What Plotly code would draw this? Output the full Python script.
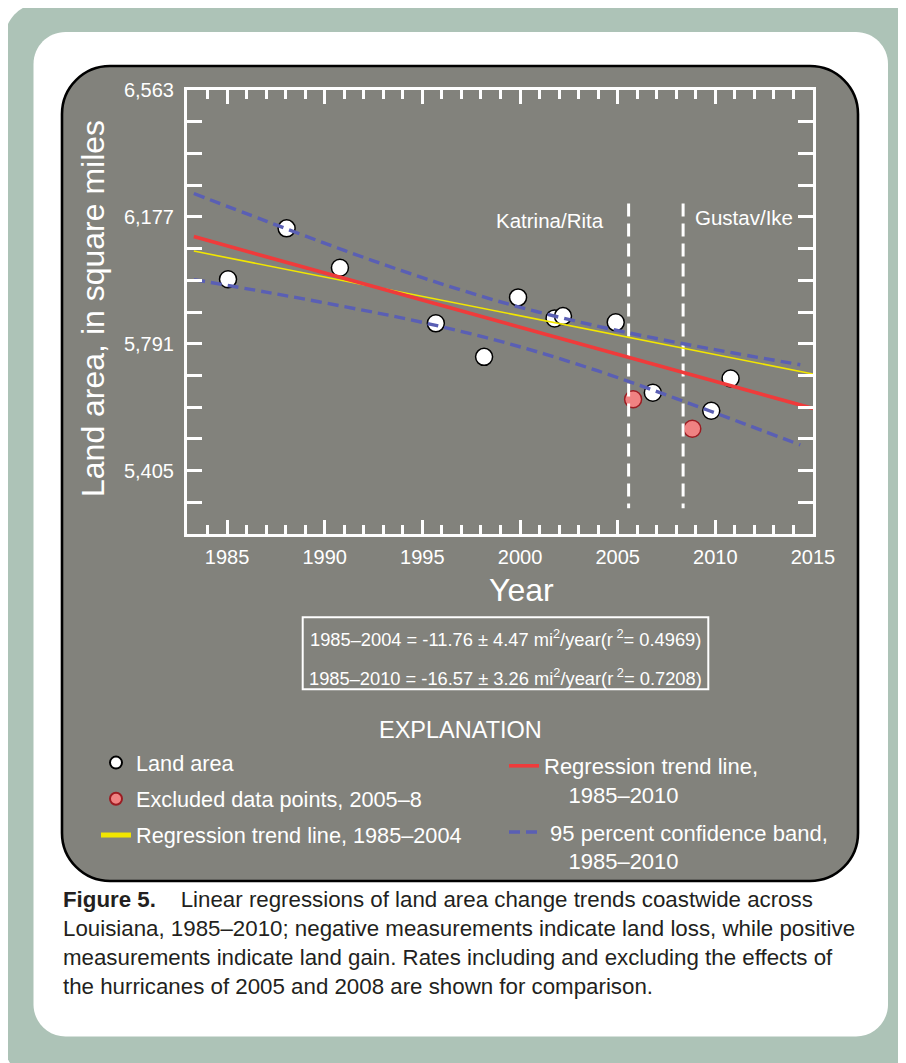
import plotly.graph_objects as go

# ---------------- data ----------------
years_land = [1985.05, 1988.05, 1990.78, 1995.69, 1998.16, 1999.9, 2001.77, 2002.2, 2004.9, 2006.8, 2009.79, 2010.78]
area_land = [5987, 6142, 6022, 5853, 5751, 5932, 5868, 5875, 5856, 5642, 5587, 5685]

years_excluded = [2005.79, 2008.82]
area_excluded = [5622, 5532]

trend_years = [1983.3, 2015.0]
trend_1985_2010 = [6117, 5594]
trend_1985_2004 = [6073, 5699]

band_years = [1983.3, 1987, 1991, 1995, 1999.5, 2004, 2008, 2011, 2014.35]
band_upper = [6248, 6164, 6075, 5992, 5910, 5844, 5795, 5762, 5727]
band_lower = [5986, 5948, 5904, 5856, 5790, 5708, 5624, 5558, 5483]

hurricane_years = [2005.56, 2008.35]
hurricane_labels = ["Katrina/Rita", "Gustav/Ike"]
hurricane_span = [6218, 5290]
hurricane_label_x = [2004.42, 2008.87]
hurricane_label_y = [6165, 6174]

y_tickvals = [5405, 5791, 6177, 6563]
y_ticktext = ["5,405", "5,791", "6,177", "6,563"]
y_minor_step = 96.5
x_tickvals = [1985, 1990, 1995, 2000, 2005, 2010, 2015]
x_ticktext = ["1985", "1990", "1995", "2000", "2005", "2010", "2015"]

eq_lines = [
    "1985–2004 = -11.76 ± 4.47 mi<sup>2</sup>/year(r<sup> 2</sup>= 0.4969)",
    "1985–2010 = -16.57 ± 3.26 mi<sup>2</sup>/year(r<sup> 2</sup>= 0.7208)",
]
caption = ("<b>Figure 5.</b>    Linear regressions of land area change trends coastwide across<br>"
           "Louisiana, 1985–2010; negative measurements indicate land loss, while positive<br>"
           "measurements indicate land gain. Rates including and excluding the effects of<br>"
           "the hurricanes of 2005 and 2008 are shown for comparison.")

# ---------------- layout helpers (page pixel coordinates) ----------------
OFF = 8                      # default body margin of the page
W, H = 906 - OFF, 1063 - OFF
L, R, T, B = 187, 813, 90, 534   # plot frame in page pixels
SANS = "Liberation Sans, Arial, Helvetica, sans-serif"
GRAY = "#82827c"
NB = "\u00a0"


def px(x):
    return (x - L) / (R - L)


def py(y):
    return (B - y) / (B - T)


def rrect(x0, y0, x1, y1, r):
    k = 0.5523 * r
    P = lambda x, y: f"{px(x):.5f},{py(y):.5f}"
    return (f"M {P(x0 + r, y0)} L {P(x1 - r, y0)} "
            f"C {P(x1 - r + k, y0)} {P(x1, y0 + r - k)} {P(x1, y0 + r)} "
            f"L {P(x1, y1 - r)} "
            f"C {P(x1, y1 - r + k)} {P(x1 - r + k, y1)} {P(x1 - r, y1)} "
            f"L {P(x0 + r, y1)} "
            f"C {P(x0 + r - k, y1)} {P(x0, y1 - r + k)} {P(x0, y1 - r)} "
            f"L {P(x0, y0 + r)} "
            f"C {P(x0, y0 + r - k)} {P(x0 + r - k, y0)} {P(x0 + r, y0)} Z")


fig = go.Figure()

fig.add_trace(go.Scatter(
    x=years_land, y=area_land, mode="markers", name="Land area",
    marker=dict(size=17, color="white", line=dict(color="black", width=1.5)),
    legend="legend", legendgroup="a"))
fig.add_trace(go.Scatter(
    x=years_excluded, y=area_excluded, mode="markers", name="Excluded data points, 2005–8",
    marker=dict(size=17, color="#f08282", line=dict(color="#9c1c22", width=1.5)),
    legend="legend", legendgroup="b"))
for hx in hurricane_years:
    fig.add_trace(go.Scatter(
        x=[hx, hx], y=hurricane_span, mode="lines", showlegend=False, hoverinfo="skip",
        line=dict(color="white", width=3, dash="13px,7px")))
fig.add_trace(go.Scatter(
    x=trend_years, y=trend_1985_2004, mode="lines", name="Regression trend line, 1985–2004",
    line=dict(color="#f2e600", width=1.6), legend="legend", legendgroup="c"))
fig.add_trace(go.Scatter(
    x=trend_years, y=trend_1985_2010, mode="lines",
    name="Regression trend line,<br>" + NB * 4 + "1985–2010",
    line=dict(color="#ef3b3b", width=3.6), legend="legend2", legendgroup="d"))
fig.add_trace(go.Scatter(
    x=band_years, y=band_upper, mode="lines", line_shape="spline",
    name=NB + "95 percent confidence band,<br>" + NB * 4 + "1985–2010",
    line=dict(color="#5a5fb4", width=3.4, dash="11px,6px"), legend="legend2", legendgroup="e"))
fig.add_trace(go.Scatter(
    x=band_years, y=band_lower, mode="lines", line_shape="spline", showlegend=False,
    line=dict(color="#5a5fb4", width=3.4, dash="11px,6px")))

shapes = [
    dict(type="path", path=rrect(4.6, 3.3, 918, 1080, 36), fillcolor="#adc3b7",
         line=dict(width=0), xref="paper", yref="paper", layer="below"),
    dict(type="path", path=rrect(33.5, 32, 888, 1036.5, 32), fillcolor="white",
         line=dict(width=0), xref="paper", yref="paper", layer="below"),
    dict(type="path", path=rrect(62, 66, 858, 881, 48), fillcolor=GRAY,
         line=dict(color="black", width=2.6), xref="paper", yref="paper", layer="below"),
    dict(type="rect", x0=px(302.7), x1=px(708.3), y0=py(617.3), y1=py(689.3),
         line=dict(color="white", width=2), xref="paper", yref="paper", layer="above"),
]

annotations = [
    dict(text="Land area, in square miles", x=px(92.5), y=py(308.5), xref="paper", yref="paper",
         textangle=-90, showarrow=False, font=dict(family=SANS, size=32, color="white"),
         xanchor="center", yanchor="middle"),
    dict(text="Year", x=px(521), y=py(590), xref="paper", yref="paper", showarrow=False,
         font=dict(family=SANS, size=32, color="white"), xanchor="center", yanchor="middle"),
    dict(text=hurricane_labels[0], x=hurricane_label_x[0], y=hurricane_label_y[0], xref="x", yref="y",
         showarrow=False, xanchor="right", yanchor="middle",
         font=dict(family=SANS, size=20.5, color="white")),
    dict(text=hurricane_labels[1], x=hurricane_label_x[1], y=hurricane_label_y[1], xref="x", yref="y",
         showarrow=False, xanchor="left", yanchor="middle",
         font=dict(family=SANS, size=20.5, color="white")),
    dict(text=eq_lines[0], x=px(505.5), y=py(638), xref="paper", yref="paper", showarrow=False,
         xanchor="center", yanchor="middle", font=dict(family=SANS, size=18.3, color="white")),
    dict(text=eq_lines[1], x=px(505.5), y=py(676.7), xref="paper", yref="paper", showarrow=False,
         xanchor="center", yanchor="middle", font=dict(family=SANS, size=18.3, color="white")),
    dict(text="EXPLANATION", x=px(460), y=py(730), xref="paper", yref="paper", showarrow=False,
         xanchor="center", yanchor="middle", font=dict(family=SANS, size=23.5, color="white")),
    dict(text=caption, x=px(61), y=py(885), xref="paper", yref="paper", showarrow=False,
         xanchor="left", yanchor="top", align="left",
         font=dict(family=SANS, size=22.3, color="#231f20")),
]

fig.update_layout(
    width=W, height=H,
    margin=dict(l=L - OFF, r=W - (R - OFF), t=T - OFF, b=H - (B - OFF), autoexpand=False),
    paper_bgcolor="white", plot_bgcolor="rgba(0,0,0,0)",
    shapes=shapes, annotations=annotations,
    legend=dict(x=px(96), y=py(742), xanchor="left", yanchor="top",
                bgcolor="rgba(0,0,0,0)", itemsizing="constant",
                traceorder="grouped", tracegroupgap=5,
                font=dict(family=SANS, size=21.7, color="white")),
    legend2=dict(x=px(504), y=py(745), xanchor="left", yanchor="top", valign="top",
                 bgcolor="rgba(0,0,0,0)", traceorder="grouped", tracegroupgap=6,
                 font=dict(family=SANS, size=22, color="white")),
    showlegend=True,
)

fig.update_xaxes(
    range=[1982.95, 2015], showgrid=False, zeroline=False,
    showline=True, linecolor="white", linewidth=3, mirror="allticks",
    ticks="inside", ticklen=14, tickwidth=2.5, tickcolor="white",
    tickvals=x_tickvals, ticktext=x_ticktext, ticklabelstandoff=3,
    tickfont=dict(family=SANS, size=20, color="white"),
    minor=dict(dtick=1, tick0=1985, ticks="inside", ticklen=9, tickwidth=2.5, tickcolor="white", showgrid=False),
)
fig.update_yaxes(
    range=[5212, 6563], showgrid=False, zeroline=False,
    showline=True, linecolor="white", linewidth=3, mirror="allticks",
    ticks="inside", ticklen=15, tickwidth=2.5, tickcolor="white",
    tickvals=y_tickvals, ticktext=y_ticktext, ticklabelstandoff=6,
    tickfont=dict(family=SANS, size=20, color="white"),
    minor=dict(dtick=y_minor_step, tick0=5212, ticks="inside", ticklen=15, tickwidth=2.5, tickcolor="white", showgrid=False),
)

fig.write_html("out.html")
